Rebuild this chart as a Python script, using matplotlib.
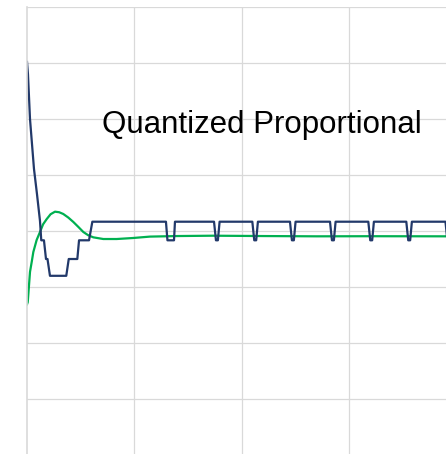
import matplotlib.pyplot as plt

# controller output (quantized), time in seconds
t_out = [0.0, 0.009, 0.028, 0.065, 0.093, 0.121, 0.133, 0.158, 0.177, 0.191, 0.214,
         0.366, 0.389, 0.469, 0.485, 0.578, 0.609, 1.295, 1.309, 1.370, 1.379,
         1.743, 1.761, 1.779, 1.795,
         2.100, 2.118, 2.136, 2.152,
         2.451, 2.469, 2.487, 2.503,
         2.824, 2.842, 2.860, 2.876,
         3.181, 3.199, 3.217, 3.233,
         3.535, 3.553, 3.571, 3.587,
         3.900, 3.918]
u_out = [3.02, 2.80, 2.0, 1.11, 0.66, 0.18, -0.166, -0.166, -0.5, -0.5, -0.8,
         -0.8, -0.5, -0.5, -0.166, -0.166, 0.166, 0.166, -0.166, -0.166, 0.166,
         0.166, -0.166, -0.166, 0.166,
         0.166, -0.166, -0.166, 0.166,
         0.166, -0.166, -0.166, 0.166,
         0.166, -0.166, -0.166, 0.166,
         0.166, -0.166, -0.166, 0.166,
         0.166, -0.166, -0.166, 0.166,
         0.166, -0.166]

# process response
t_resp = [0.0, 0.007, 0.028, 0.045, 0.059, 0.09, 0.121, 0.15, 0.184, 0.22, 0.261,
          0.30, 0.338, 0.385, 0.432, 0.48, 0.525, 0.57, 0.618, 0.711, 0.836,
          0.988, 1.146, 1.40, 1.733, 2.2, 2.7, 3.2, 3.905]
y_resp = [-1.31, -1.27, -0.73, -0.54, -0.375, -0.16, -0.018, 0.12, 0.214, 0.30, 0.345,
          0.335, 0.304, 0.24, 0.161, 0.07, -0.018, -0.075, -0.113, -0.143, -0.143,
          -0.125, -0.10, -0.09, -0.084, -0.09, -0.095, -0.093, -0.095]

title = 'Quantized Proportional'

fig = plt.figure(figsize=(4.46, 4.54), dpi=100)
ax = fig.add_axes([27 / 446, 0, 419 / 446, 447 / 454])

ax.plot(t_resp, y_resp, color='#00b050', lw=1.6, solid_joinstyle='round')
ax.plot(t_out, u_out, color='#22396a', lw=1.6, solid_joinstyle='round')

ax.set_xlim(0, 3.905)
ax.set_ylim(-3.982, 4.0)
ax.set_xticks([1, 2, 3])
ax.set_yticks(range(-3, 5))
ax.grid(True, color='#d9d9d9', lw=0.9)
ax.set_axisbelow(True)
ax.tick_params(length=0, labelbottom=False, labelleft=False)
for s in ['top', 'right', 'bottom']:
    ax.spines[s].set_visible(False)
ax.spines['left'].set_color('#d9d9d9')
ax.spines['left'].set_linewidth(1.2)

ax.text(2.19, 1.90, title, ha='center', va='center', fontsize=22.5,
        family='Liberation Sans', color='black')

fig.savefig('out.png', dpi=100)
